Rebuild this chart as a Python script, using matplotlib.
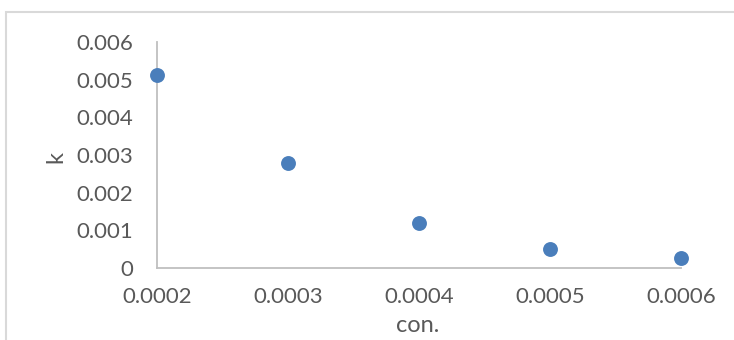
import matplotlib
matplotlib.use('Agg')
import matplotlib.pyplot as plt
from matplotlib.patches import Rectangle

# concentration vs rate constant
con = [0.0002, 0.0003, 0.0004, 0.0005, 0.0006]
k = [0.00512, 0.00279, 0.00120, 0.00050, 0.00027]

x_ticks = [0.0002, 0.0003, 0.0004, 0.0005, 0.0006]
x_labels = ["0.0002", "0.0003", "0.0004", "0.0005", "0.0006"]
y_ticks = [0, 0.001, 0.002, 0.003, 0.004, 0.005, 0.006]
y_labels = ["0", "0.001", "0.002", "0.003", "0.004", "0.005", "0.006"]

plt.rcParams['font.family'] = ['Lato', 'DejaVu Sans']
text_color = '#595959'
axis_color = '#bfbfbf'
fs = 16

fig = plt.figure(figsize=(7.34, 3.4), dpi=100)
ax = fig.add_axes([157 / 734, 1 - 268 / 340, (681 - 157) / 734, (268 - 42) / 340])

ax.scatter(con, k, s=115, color='#4a7ebb', zorder=3, clip_on=False, linewidths=0)

ax.set_xlim(0.0002, 0.0006)
ax.set_ylim(0, 0.006)
ax.set_xticks(x_ticks)
ax.set_xticklabels(x_labels)
ax.set_yticks(y_ticks)
ax.set_yticklabels(y_labels)
ax.tick_params(length=0, labelsize=fs, colors=text_color)
ax.tick_params(axis='x', pad=14)
ax.tick_params(axis='y', pad=17)

for side in ['top', 'right']:
    ax.spines[side].set_visible(False)
for side in ['left', 'bottom']:
    ax.spines[side].set_color(axis_color)
    ax.spines[side].set_linewidth(1.3)

ax.set_xlabel("con.", fontsize=fs + 1, color=text_color)
ax.set_ylabel("k", fontsize=fs + 1, color=text_color)
ax.xaxis.set_label_coords((418 - 157) / (681 - 157), -(325 - 268) / (268 - 42))
ax.yaxis.set_label_coords(-(157 - 56) / (681 - 157), (268 - 157) / (268 - 42))
ax.xaxis.label.set_va('center')
ax.yaxis.label.set_va('center')

# chart area border
fig.patches.append(Rectangle((6 / 734, -0.1), 1.2, 1 - 12 / 340 + 0.1,
                             transform=fig.transFigure, fill=False,
                             edgecolor='#d9d9d9', linewidth=1.5))

fig.savefig("out.png", dpi=100)
